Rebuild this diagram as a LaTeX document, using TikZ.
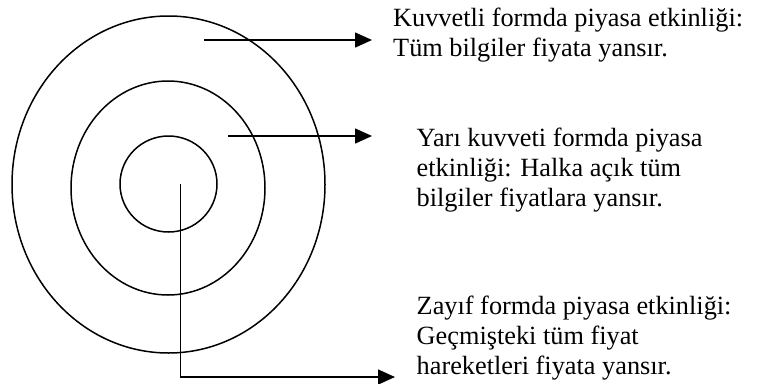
\documentclass[tikz,border=0pt]{standalone}
\usepackage{fontspec}
\setmainfont{Liberation Serif}
\usetikzlibrary{arrows.meta,shapes.geometric}
\tikzset{
  ring/.style={ellipse, draw=black, line width=1.5pt, inner sep=0pt},
  note/.style={anchor=base west, align=left, inner sep=0pt,
    font=\fontsize{26.3}{30}\selectfont},
  flow/.style={-{Triangle[length=17pt, width=15pt]}, draw=black, line width=1.5pt},
}

\begin{document}
\begin{tikzpicture}[x=1pt, y=-1pt]
  \useasboundingbox (0,0) rectangle (757,383);
  % the three forms of market efficiency
  \node[ring, minimum width=313pt, minimum height=337pt] (strong) at (168.5,184.5) {};
  \node[ring, minimum width=194pt, minimum height=214pt] (semi) at (168,188) {};
  \node[ring, minimum width=97pt, minimum height=96pt] (weak) at (168.5,184) {};

  % anchored on the baseline of the last line
  \node[note] (strongtxt) at (393,56.7) {Kuvvetli formda piyasa etkinliği:\\Tüm bilgiler fiyata yansır.};
  \node[note] (semitxt) at (416.5,206.5) {Yarı kuvveti formda piyasa\\etkinliği: Halka açık tüm\\bilgiler fiyatlara yansır.};
  \node[note] (weaktxt) at (416.5,374) {Zayıf formda piyasa etkinliği:\\Geçmişteki tüm fiyat\\hareketleri fiyata yansır.};

  \coordinate (s1) at (204,40);
  \coordinate (e1) at (372,40);
  \coordinate (s2) at (228,136);
  \coordinate (e2) at (372,136);
  \coordinate (s3) at (180.3,184);
  \coordinate (e3) at (395,377);
  \draw[flow] (s1) -- (e1);
  \draw[flow] (s2) -- (e2);
  \draw[flow] (s3) |- (e3);
\end{tikzpicture}
\end{document}
